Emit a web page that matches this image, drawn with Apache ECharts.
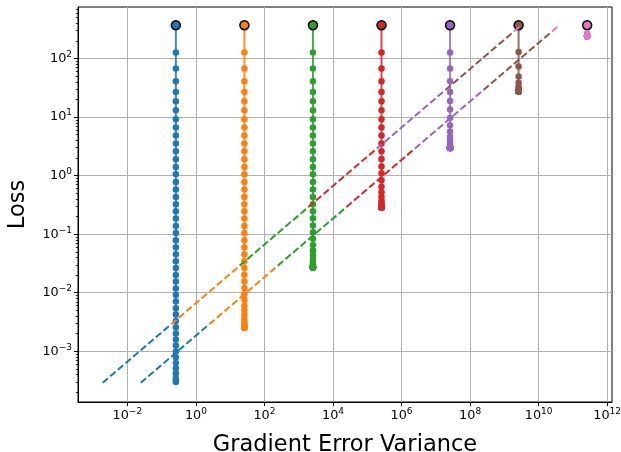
<!DOCTYPE html>
<html><head><meta charset="utf-8">
<script src="https://cdn.jsdelivr.net/npm/echarts@6/dist/echarts.min.js"></script>
<style>html,body{margin:0;padding:0;background:#fff}#c{width:621px;height:452px}</style>
</head><body><div id="c"></div>
<script>
// Gradient error variance of each run (x position of each vertical column)
const variances = [0.26, 26, 2600, 2.6e5, 2.6e7, 2.6e9, 2.6e11];

// Loss values (first value = initial loss, big marker)
const lossBlue = [371, 126.5, 67.45, 40.93, 26.92, 18.66, 13.09, 9.204, 6.637, 4.842, 3.532, 2.612, 1.905, 1.409, 1.057, 0.7798, 0.5794, 0.4325, 0.3251, 0.2466, 0.1849, 0.1384, 0.1050, 0.0789, 0.0598, 0.0455, 0.0345, 0.0265, 0.0201, 0.0155, 0.0118, 0.00916, 0.00708, 0.00543, 0.00425, 0.00330, 0.00258, 0.00201, 0.00159, 0.00125, 0.000991, 0.000791, 0.000632, 0.000513, 0.000417, 0.000343, 0.000316, 0.000300];
const lossOrange = [371, 126.5, 67.45, 40.93, 26.92, 18.66, 13.09, 9.204, 6.637, 4.842, 3.532, 2.612, 1.905, 1.409, 1.057, 0.7798, 0.5794, 0.4325, 0.3251, 0.2466, 0.1849, 0.1384, 0.1050, 0.0789, 0.0598, 0.0455, 0.0345, 0.0265, 0.0203, 0.01574, 0.01208, 0.00946, 0.0075, 0.00601, 0.00501, 0.00417, 0.00355, 0.00316, 0.00292, 0.00275, 0.00266, 0.0026, 0.00256, 0.00254, 0.00253, 0.002523, 0.002518, 0.002512];
const lossGreen = [371, 126.5, 67.45, 40.93, 26.92, 18.66, 13.09, 9.204, 6.637, 4.842, 3.532, 2.612, 1.905, 1.409, 1.057, 0.7798, 0.5794, 0.4325, 0.3251, 0.2466, 0.1871, 0.1409, 0.1084, 0.0834, 0.0656, 0.0528, 0.0438, 0.0378, 0.03365, 0.03105, 0.02938, 0.02844, 0.0278, 0.02748, 0.02723, 0.0271, 0.02704, 0.02698, 0.02698, 0.02692, 0.02692, 0.02692, 0.02692, 0.02692, 0.02692, 0.02692, 0.02692, 0.02692];
const lossRed = [371, 126.5, 67.45, 40.93, 26.92, 18.66, 13.09, 9.204, 6.637, 4.842, 3.532, 2.612, 1.928, 1.439, 1.096, 0.8318, 0.6471, 0.52, 0.4345, 0.3793, 0.3428, 0.3199, 0.3069, 0.2992, 0.2944, 0.2917, 0.2904, 0.2897, 0.2891, 0.2884, 0.2884, 0.2884, 0.2884, 0.2884, 0.2884, 0.2884, 0.2884, 0.2884, 0.2884, 0.2884, 0.2884, 0.2884, 0.2884, 0.2884, 0.2884, 0.2884, 0.2884, 0.2884];
const lossPurple = [371, 126.5, 67.45, 40.93, 26.92, 18.88, 13.43, 9.66, 7.261, 5.675, 4.603, 3.945, 3.516, 3.273, 3.133, 3.055, 3.006, 2.985, 2.972, 2.965, 2.958, 2.951, 2.951, 2.951, 2.951, 2.951, 2.951, 2.951, 2.951, 2.951, 2.951, 2.951, 2.951, 2.951, 2.951, 2.951, 2.951, 2.951, 2.951, 2.951, 2.951, 2.951, 2.951, 2.951, 2.951, 2.951, 2.951, 2.951];
const lossBrown = [371, 129.7, 72.87, 49.32, 38.64, 33.27, 30.48, 29.04, 28.31, 27.99, 27.8, 27.67, 27.61, 27.54, 27.54, 27.54, 27.54, 27.54, 27.54, 27.54, 27.54, 27.54, 27.54, 27.54, 27.54, 27.54, 27.54, 27.54, 27.54, 27.54, 27.54, 27.54, 27.54, 27.54, 27.54, 27.54, 27.54, 27.54, 27.54, 27.54, 27.54, 27.54, 27.54, 27.54, 27.54, 27.54, 27.54, 27.54];
const lossPink = [371, 271.0, 249.5, 243.2, 241.5, 240.4, 240.1, 239.9, 239.9, 239.9, 239.9, 239.9, 239.9, 239.9, 239.9, 239.9, 239.9, 239.9, 239.9, 239.9, 239.9, 239.9, 239.9, 239.9, 239.9, 239.9, 239.9, 239.9, 239.9, 239.9, 239.9, 239.9, 239.9, 239.9, 239.9, 239.9, 239.9, 239.9, 239.9, 239.9, 239.9, 239.9, 239.9, 239.9, 239.9, 239.9, 239.9, 239.9];
const lossRuns = [lossBlue, lossOrange, lossGreen, lossRed, lossPurple, lossBrown, lossPink];

// Dashed segments (start, end) per run
const upperVar  = [[1.905e-3, 0.1905], [0.1905, 19.05], [19.05, 1905], [1905, 1.905e5], [1.905e5, 1.905e7], [1.905e7, 1.905e9], [1.905e9, 3.09e9]];
const upperLoss = [[2.904e-4, 2.904e-3], [2.904e-3, 2.904e-2], [2.904e-2, 0.2904], [0.2904, 2.904], [2.904, 29.04], [29.04, 290.4], [290.4, 370.7]];
const lowerVar  = [[0.02455, 2.455], [2.455, 245.5], [245.5, 2.455e4], [2.455e4, 2.455e6], [2.455e6, 2.455e8], [2.455e8, 2.455e10], [2.455e10, 3.98e10]];
const lowerLoss = [[2.904e-4, 2.904e-3], [2.904e-3, 2.904e-2], [2.904e-2, 0.2904], [0.2904, 2.904], [2.904, 29.04], [29.04, 290.4], [290.4, 370.7]];

const colors = ['#1f77b4', '#ff7f0e', '#2ca02c', '#d62728', '#9467bd', '#8c564b', '#e377c2'];
const xTickExps = [-2, 0, 2, 4, 6, 8, 10, 12];
const yTickExps = [-3, -2, -1, 0, 1, 2];
const minorMult = [2, 3, 4, 5, 6, 7, 8, 9];

const LG = Math.log10;
const xMin = -3.44, xMax = 12.14, yMin = -3.866, yMax = 2.88;

const yMinor = [];
for (let e = -4; e <= 2; e++) minorMult.forEach(m => { const v = LG(m) + e; if (v > yMin && v < yMax) yMinor.push(v); });

const series = [];
lossRuns.forEach((arr, i) => {
  const x = LG(variances[i]);
  series.push({
    type: 'line', z: 2, silent: true,
    symbol: 'circle', symbolSize: 6.5, showAllSymbol: true,
    itemStyle: { color: colors[i] },
    lineStyle: { color: colors[i], width: 2, opacity: 0.85 },
    data: arr.map((v, k) => k === 0
      ? { value: [x, LG(v)], symbolSize: 9, itemStyle: { color: colors[i], borderColor: '#000', borderWidth: 1.5 } }
      : [x, LG(v)])
  });
});
[[upperVar, upperLoss], [lowerVar, lowerLoss]].forEach(([vx, vy]) => {
  vx.forEach((seg, i) => {
    series.push({
      type: 'line', z: 3, silent: true, symbol: 'none',
      lineStyle: { color: colors[i], width: 2, type: [7, 3] },
      data: [[LG(seg[0]), LG(vy[i][0])], [LG(seg[1]), LG(vy[i][1])]]
    });
  });
});

const fmt = v => '{b|10}{s|' + (v < 0 ? '\u2212' + (-v) : String(v)) + '}';
const rich = {
  b: { fontSize: 12.8, fontFamily: 'DejaVu Sans', color: '#000', lineHeight: 17 },
  s: { fontSize: 9, fontFamily: 'DejaVu Sans', color: '#000', lineHeight: 10, verticalAlign: 'top' }
};

const chart = echarts.init(document.getElementById('c'), null, { renderer: 'canvas' });
chart.setOption({
  animation: false,
  backgroundColor: '#fff',
  grid: { left: 78, top: 7, width: 534, height: 395, show: true, borderColor: '#000', borderWidth: 1, containLabel: false, outerBoundsMode: 'none' },
  xAxis: {
    type: 'value', min: xMin, max: xMax,
    name: 'Gradient Error Variance', nameLocation: 'middle', nameGap: 32,
    nameTextStyle: { fontSize: 22.5, fontFamily: 'DejaVu Sans', color: '#000' },
    axisLine: { show: true, onZero: false, lineStyle: { color: '#000', width: 1 } },
    axisTick: { show: true, length: 4, customValues: xTickExps, lineStyle: { color: '#000', width: 1 } },
    axisLabel: { customValues: xTickExps, formatter: fmt, rich: rich, margin: 5 },
    splitLine: { show: true, lineStyle: { color: '#b0b0b0', width: 1 } },
    minorTick: { show: false }
  },
  yAxis: [{
    type: 'value', min: yMin, max: yMax,
    name: 'Loss', nameLocation: 'middle', nameGap: 48,
    nameTextStyle: { fontSize: 22.5, fontFamily: 'DejaVu Sans', color: '#000' },
    axisLine: { show: true, onZero: false, lineStyle: { color: '#000', width: 1 } },
    axisTick: { show: true, length: 4, customValues: yTickExps, lineStyle: { color: '#000', width: 1 } },
    axisLabel: { customValues: yTickExps, formatter: fmt, rich: rich, margin: 6 },
    splitLine: { show: true, lineStyle: { color: '#b0b0b0', width: 1 } }
  }, {
    type: 'value', min: yMin, max: yMax, position: 'left', offset: 0,
    axisLine: { show: false, onZero: false },
    axisTick: { show: true, length: 2.2, customValues: yMinor, lineStyle: { color: '#000', width: 0.8 } },
    axisLabel: { show: false },
    splitLine: { show: false }
  }],
  series: series
});
</script></body></html>
